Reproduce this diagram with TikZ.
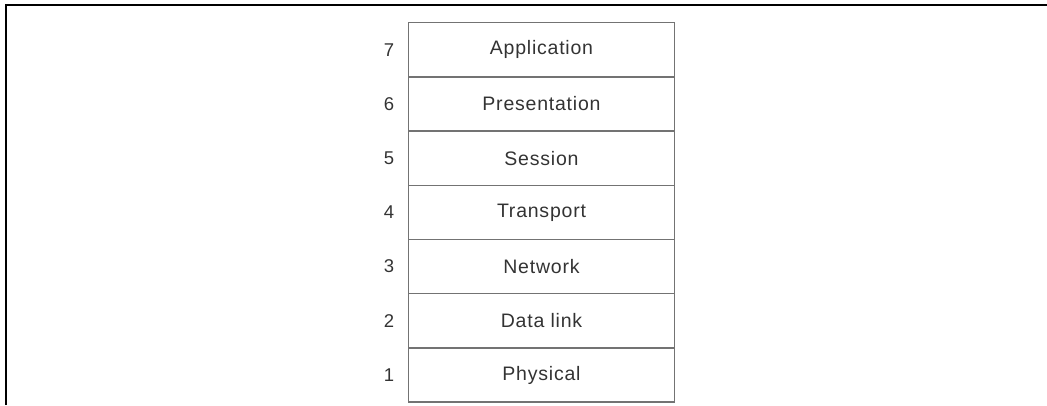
\documentclass[tikz,border=0pt]{standalone}
\usepackage{fontspec}
\setmainfont{Liberation Sans}
\begin{document}
\begin{tikzpicture}[x=1pt,y=-1pt,
  layer/.style={draw=black!55, line width=1.4pt, minimum width=266pt, minimum height=54.2pt, inner sep=0pt, outer sep=0pt, text=black!80, font=\fontsize{19.5}{22}\selectfont\addfontfeature{LetterSpace=4}},
  num/.style={text=black!80, font=\fontsize{18.5}{21}\selectfont, inner sep=0pt}]
\useasboundingbox (0,0) rectangle (1047,405);
\draw[line width=2pt] (6,405) -- (6,5) -- (1047,5);
\foreach \i/\n/\t in {0/7/Application,1/6/Presentation,2/5/Session,3/4/Transport,4/3/Network,5/2/Data link,6/1/Physical}{
  \node[layer] (L\n) at (541.5,{22.7+54.2*\i+27.1}) {\t};
  \node[num] (N\n) at (389,{22.7+54.2*\i+27.1}) {\n};
}
\end{tikzpicture}
\end{document}
